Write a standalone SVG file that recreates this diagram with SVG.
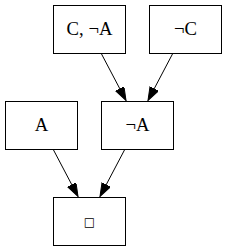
<svg xmlns="http://www.w3.org/2000/svg" width="227" height="251" viewBox="0 0 227 251">
<style>
.n rect{fill:#fff;stroke:#000;stroke-width:1}
.n text{font-family:"Liberation Serif","Times New Roman",serif;font-size:18.67px;text-anchor:middle;fill:#000}
.n text.sq{font-family:"DejaVu Sans",sans-serif;font-size:12px}
.e line{stroke:#000;stroke-width:1;marker-end:url(#ah)}
</style>
<defs>
<marker id="ah" markerUnits="userSpaceOnUse" markerWidth="16" markerHeight="12" refX="13.3" refY="4.7" orient="auto">
<polygon points="0,0 13.3,4.7 0,9.4" fill="#000" stroke="#000" stroke-width="1"/>
</marker>
</defs>
<rect width="227" height="251" fill="#fff"/>
<g class="e" id="edges">
<line x1="101" y1="53" x2="126" y2="100.5"/>
<line x1="173" y1="53" x2="148" y2="100.5"/>
<line x1="53" y1="149" x2="78" y2="196.5"/>
<line x1="125" y1="149" x2="100" y2="196.5"/>
</g>
<g class="n" id="n1"><rect x="53.5" y="5.5" width="72" height="48"/><text x="89.5" y="35">C, ¬A</text></g>
<g class="n" id="n2"><rect x="149.5" y="5.5" width="72" height="48"/><text x="185.5" y="35">¬C</text></g>
<g class="n" id="n3"><rect x="5.5" y="101.5" width="72" height="48"/><text x="41.5" y="131">A</text></g>
<g class="n" id="n4"><rect x="101.5" y="101.5" width="72" height="48"/><text x="137.5" y="131">¬A</text></g>
<g class="n" id="n5"><rect x="53.5" y="197.5" width="72" height="48"/><text class="sq" x="89.5" y="226">□</text></g>
</svg>
